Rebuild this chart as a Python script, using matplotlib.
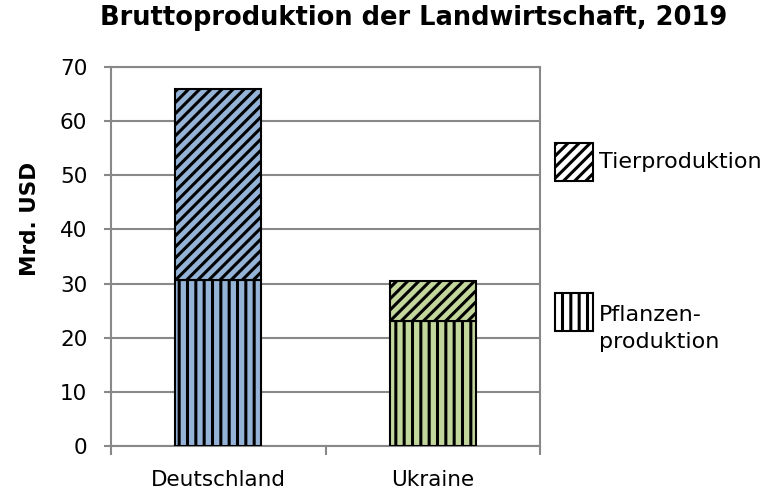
import matplotlib.pyplot as plt
from matplotlib.patches import Rectangle

countries = ['Deutschland', 'Ukraine']
pflanzen = [30.6, 23.1]
tier = [35.4, 7.3]
colours = ['#95B3D7', '#C3D69B']

plt.rcParams['font.family'] = 'DejaVu Sans'
plt.rcParams['hatch.linewidth'] = 2.2

fig = plt.figure(figsize=(7.75, 4.93), dpi=100)
ax = fig.add_axes([0.1432, 0.0953, 0.5536, 0.7688])

x = range(len(countries))
ax.bar(x, pflanzen, width=0.4, color=colours, edgecolor='black', linewidth=1.5, hatch='||', zorder=3)
ax.bar(x, tier, bottom=pflanzen, width=0.4, color=colours, edgecolor='black', linewidth=1.5, hatch='///', zorder=3)

ax.set_ylim(0, 70)
ax.set_xlim(-0.5, 1.5)
ax.set_yticks(range(0, 71, 10))
ax.set_xticks(list(x))
ax.set_xticklabels(countries, fontsize=15.5)
ax.set_xticks([-0.5, 0.5, 1.5], minor=True)
ax.tick_params(axis='x', which='major', length=0, pad=17)
ax.tick_params(axis='x', which='minor', length=6.5, width=1.5, color='#888888', direction='out')
ax.tick_params(axis='y', length=5, width=1.5, color='#888888', labelsize=15.5, pad=12)
ax.grid(axis='y', color='#888888', linewidth=1.5, zorder=0)
for s in ax.spines.values():
    s.set_color('#888888')
    s.set_linewidth(1.5)

ax.set_ylabel('Mrd. USD', fontsize=15.5, fontweight='bold')
ax.yaxis.set_label_coords(-0.165, 0.6)
fig.text(0.534, 0.963, 'Bruttoproduktion der Landwirtschaft, 2019', ha='center', va='center',
         fontsize=18.5, fontweight='bold')

# legend drawn by hand, box left of the text like the original
fig.add_artist(Rectangle((0.7161, 0.6329), 0.049, 0.0771, transform=fig.transFigure,
                         facecolor='white', edgecolor='black', hatch='///', linewidth=1.5))
fig.text(0.773, 0.6714, 'Tierproduktion', ha='left', va='center', fontsize=16)
fig.add_artist(Rectangle((0.7161, 0.3286), 0.049, 0.0771, transform=fig.transFigure,
                         facecolor='white', edgecolor='black', hatch='||', linewidth=1.5))
fig.text(0.773, 0.3337, 'Pflanzen-\nproduktion', ha='left', va='center', fontsize=16, linespacing=1.4)

fig.savefig('out.png', dpi=100)
